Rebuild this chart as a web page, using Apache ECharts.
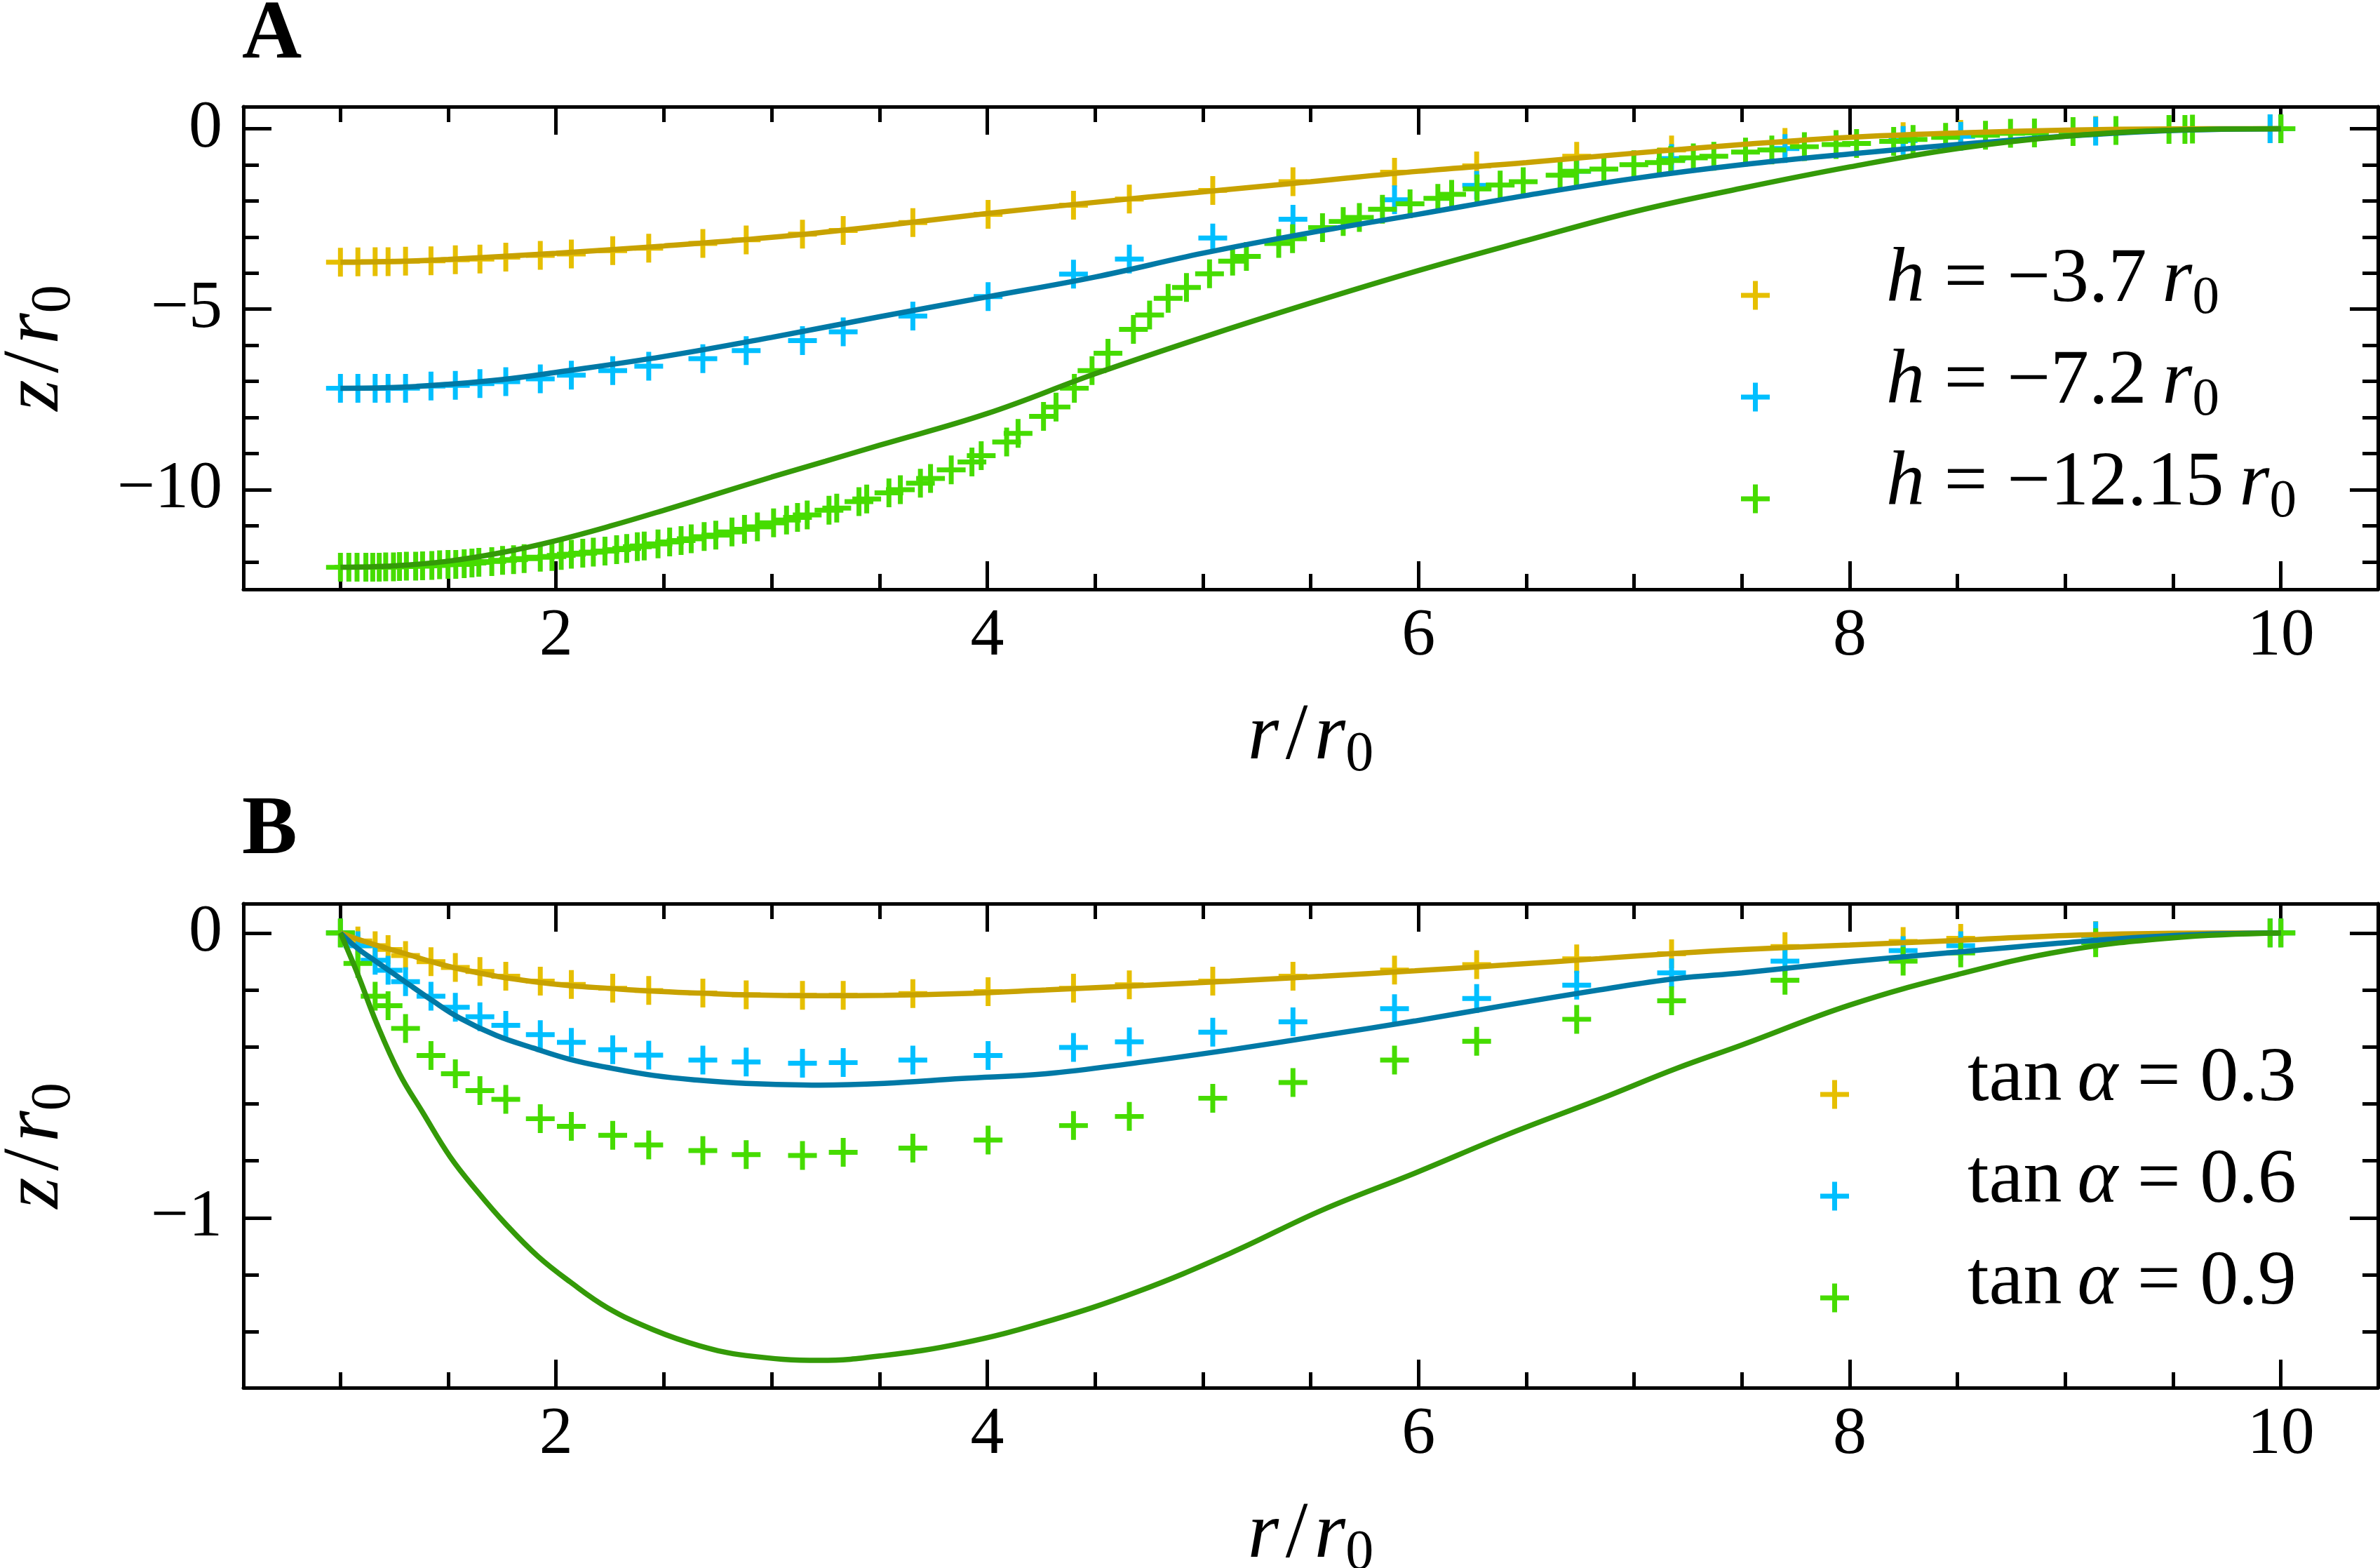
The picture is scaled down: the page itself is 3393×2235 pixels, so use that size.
<!DOCTYPE html>
<html>
<head>
<meta charset="utf-8">
<script src="https://cdn.jsdelivr.net/npm/echarts@6/dist/echarts.min.js"></script>
<style>
html, body { margin: 0; padding: 0; background: #fff; }
#chart { width: 3393px; height: 2235px; }
</style>
</head>
<body>
<div id="chart"></div>
<script>
// ---- data ----
// shared r/r0 nodes of the simulated profiles (gold, blue in A; all of B)
const rNodes = [1.000, 1.081, 1.161, 1.221, 1.302, 1.420, 1.533, 1.647, 1.767, 1.927, 2.071, 2.263, 2.430,
  2.681, 2.882, 3.143, 3.332, 3.655, 4.004, 4.400, 4.659, 5.046, 5.418, 5.889, 6.270, 6.734, 7.174,
  7.700, 8.248, 8.515, 9.141, 9.950, 10.000];

// panel A markers
const zA_h37 = [-3.70, -3.69, -3.685, -3.685, -3.67, -3.66, -3.63, -3.61, -3.56, -3.51, -3.47, -3.38, -3.31,
  -3.18, -3.08, -2.92, -2.82, -2.60, -2.375, -2.12, -1.95, -1.71, -1.47, -1.205, -1.03, -0.765, -0.59,
  -0.38, -0.22, -0.16, -0.05, 0, 0];
const zA_h72 = [-7.19, -7.19, -7.19, -7.19, -7.19, -7.13, -7.11, -7.06, -7.01, -6.93, -6.83, -6.70, -6.58,
  -6.37, -6.15, -5.87, -5.63, -5.19, -4.65, -4.03, -3.61, -3.03, -2.51, -1.97, -1.57, -1.18, -0.83,
  -0.55, -0.33, -0.21, -0.07, 0, 0];
const rA_h1215 = [1.000, 1.039, 1.077, 1.118, 1.150, 1.180, 1.210, 1.246, 1.274, 1.306, 1.349, 1.381, 1.424,
  1.460, 1.499, 1.535, 1.574, 1.610, 1.642, 1.702, 1.752, 1.803, 1.852, 1.927, 1.981, 2.024, 2.071, 2.124,
  2.173, 2.227, 2.281, 2.328, 2.377, 2.409, 2.473, 2.527, 2.580, 2.627, 2.687, 2.741, 2.816, 2.874, 2.934,
  3.009, 3.069, 3.120, 3.165, 3.266, 3.302, 3.405, 3.441, 3.544, 3.597, 3.690, 3.737, 3.833,
  3.929, 3.972, 4.090, 4.143, 4.261, 4.319, 4.404, 4.486, 4.560, 4.678, 4.753, 4.839, 4.924, 5.031, 5.138,
  5.202, 5.352, 5.416, 5.555, 5.651, 5.726, 5.833, 5.961, 6.090, 6.154, 6.272, 6.379, 6.486, 6.657, 6.732,
  6.860, 6.999, 7.117, 7.170, 7.275, 7.370, 7.517, 7.639, 7.790, 7.937, 8.032, 8.204, 8.294, 8.445, 8.630,
  8.746, 8.857, 9.036, 9.235, 9.481, 9.555, 9.590, 10.000];
const zA_h1215 = [-12.15, -12.15, -12.15, -12.15, -12.15, -12.15, -12.14, -12.14, -12.13, -12.12, -12.12, -12.11, -12.10,
  -12.08, -12.07, -12.07, -12.05, -12.03, -12.01, -11.99, -11.96, -11.94, -11.91, -11.87, -11.85, -11.82, -11.79, -11.76,
  -11.73, -11.70, -11.66, -11.63, -11.58, -11.56, -11.50, -11.45, -11.41, -11.36, -11.30, -11.26, -11.17, -11.10, -11.03,
  -10.92, -10.84, -10.77, -10.70, -10.57, -10.51, -10.33, -10.26, -10.09, -10.00, -9.82, -9.69, -9.45,
  -9.235, -9.06, -8.68, -8.44, -7.97, -7.71, -7.19, -6.70, -6.22, -5.56, -5.16, -4.70, -4.40, -4.02, -3.67,
  -3.54, -3.18, -3.05, -2.74, -2.57, -2.46, -2.23, -2.08, -1.93, -1.82, -1.67, -1.56, -1.47, -1.29, -1.18,
  -1.12, -1.00, -0.94, -0.88, -0.81, -0.765, -0.65, -0.59, -0.50, -0.44, -0.41, -0.35, -0.30, -0.24, -0.18,
  -0.13, -0.12, -0.08, -0.05, -0.02, -0.02, -0.01, 0];

// panel A model curves
const rLineA_37 = [1, 1.25, 1.5, 2, 2.5, 3, 3.5, 4, 4.5, 5, 5.5, 6, 6.5, 7, 7.5, 8, 8.5, 9, 9.5, 10];
const zLineA_37 = [-3.70, -3.68, -3.62, -3.45, -3.25, -3.01, -2.70, -2.35, -2.04, -1.75, -1.47, -1.18, -0.94, -0.68,
  -0.44, -0.24, -0.12, -0.04, -0.005, 0];
const rLineA_72 = [1, 1.25, 1.5, 1.75, 2, 2.5, 3, 3.5, 4, 4.5, 5, 5.5, 6, 6.5, 7, 7.5, 8, 8.5, 9, 9.5, 10];
const zLineA_72 = [-7.19, -7.17, -7.08, -6.95, -6.75, -6.31, -5.78, -5.21, -4.66, -4.11, -3.45, -2.88, -2.37, -1.85,
  -1.38, -1.00, -0.70, -0.44, -0.21, -0.05, 0];
const rLineA_1215 = [1, 1.25, 1.5, 1.75, 2, 2.25, 2.5, 2.75, 3, 3.25, 3.5, 4, 4.5, 5, 5.5, 6, 6.5, 7, 7.5, 8, 8.5, 9, 9.5, 10];
const zLineA_1215 = [-12.15, -12.11, -11.98, -11.74, -11.41, -11.01, -10.57, -10.11, -9.65, -9.21, -8.77, -7.89, -6.79,
  -5.78, -4.83, -3.93, -3.10, -2.30, -1.65, -1.06, -0.55, -0.21, -0.04, 0];

// panel B markers (on rNodes)
const zB_t03 = [0, -0.028, -0.045, -0.058, -0.079, -0.101, -0.121, -0.135, -0.152, -0.169, -0.181, -0.194, -0.202,
  -0.211, -0.217, -0.219, -0.219, -0.213, -0.206, -0.194, -0.182, -0.169, -0.152, -0.130, -0.111, -0.091, -0.073,
  -0.048, -0.030, -0.019, -0.009, 0, 0];
const zB_t06 = [0, -0.045, -0.096, -0.131, -0.171, -0.222, -0.261, -0.294, -0.324, -0.357, -0.384, -0.410, -0.429,
  -0.446, -0.453, -0.457, -0.455, -0.446, -0.430, -0.402, -0.382, -0.348, -0.312, -0.266, -0.230, -0.183, -0.140,
  -0.099, -0.062, -0.045, -0.010, 0, 0];
const zB_t09 = [0, -0.107, -0.222, -0.255, -0.335, -0.430, -0.494, -0.553, -0.584, -0.652, -0.679, -0.710, -0.744,
  -0.764, -0.778, -0.781, -0.770, -0.755, -0.727, -0.676, -0.644, -0.580, -0.525, -0.446, -0.380, -0.303, -0.238,
  -0.166, -0.099, -0.070, -0.034, 0, 0];

// panel B model curves
const rLineB_03 = [1, 1.081, 1.167, 1.302, 1.424, 1.552, 1.724, 1.895, 2.066, 2.238, 2.452, 2.666, 2.880, 3.223, 3.522,
  3.882, 4.272, 4.700, 5.127, 5.555, 5.983, 6.411, 6.838, 7.198, 7.5, 8, 8.5, 9, 9.5, 10];
const zLineB_03 = [0, -0.022, -0.043, -0.073, -0.101, -0.126, -0.152, -0.171, -0.185, -0.194, -0.204, -0.211, -0.217,
  -0.220, -0.219, -0.213, -0.200, -0.185, -0.169, -0.152, -0.133, -0.112, -0.090, -0.071, -0.058, -0.042, -0.026,
  -0.009, -0.001, 0];
const rLineB_06 = [1, 1.081, 1.167, 1.296, 1.424, 1.552, 1.724, 1.895, 2.066, 2.238, 2.452, 2.666, 2.880, 3.223, 3.522,
  3.882, 4.272, 4.700, 5.127, 5.555, 5.983, 6.411, 6.838, 7.198, 7.5, 8, 8.5, 9, 9.5, 10];
const zLineB_06 = [0, -0.055, -0.101, -0.169, -0.236, -0.298, -0.360, -0.404, -0.444, -0.472, -0.500, -0.517, -0.528,
  -0.534, -0.528, -0.511, -0.494, -0.455, -0.410, -0.360, -0.309, -0.253, -0.200, -0.160, -0.140, -0.101, -0.067,
  -0.034, -0.009, 0];
const rLineB_09 = [1, 1.081, 1.167, 1.274, 1.381, 1.510, 1.638, 1.767, 1.916, 2.066, 2.238, 2.452, 2.666, 2.880, 3.223,
  3.522, 3.882, 4.272, 4.700, 5.127, 5.555, 5.983, 6.411, 6.838, 7.198, 7.5, 8, 8.5, 9, 9.5, 10];
const zLineB_09 = [0, -0.146, -0.315, -0.494, -0.629, -0.787, -0.910, -1.022, -1.135, -1.225, -1.315, -1.393, -1.449,
  -1.483, -1.500, -1.483, -1.440, -1.365, -1.258, -1.124, -0.972, -0.843, -0.708, -0.584, -0.475, -0.393, -0.253,
  -0.146, -0.062, -0.017, 0];

// ticks
const xMajor = [2, 4, 6, 8, 10];
const xMinor = [1, 1.5, 2.5, 3, 3.5, 4.5, 5, 5.5, 6.5, 7, 7.5, 8.5, 9, 9.5];
const yMajorA = [-10, -5, 0];
const yMinorA = [-12, -11, -9, -8, -7, -6, -4, -3, -2, -1];
const yMajorB = [-1, 0];
const yMinorB = [-1.4, -1.2, -0.8, -0.6, -0.4, -0.2];

const legendA = ['{i|h}{n| = \u22123.7\u2009}{i|r}{s|0}', '{i|h}{n| = \u22127.2\u2009}{i|r}{s|0}', '{i|h}{n| = \u221212.15\u2009}{i|r}{s|0}'];
const legendB = ['{n|tan\u2009}{i|\u03b1}{n| = 0.3}', '{n|tan\u2009}{i|\u03b1}{n| = 0.6}', '{n|tan\u2009}{i|\u03b1}{n| = 0.9}'];
const nameX = '{i|r}{n|\u200a/\u200a}{i|r}{s|0}';
const nameY = '{i|z}{n|\u200a/\u200a}{i|r}{s|0}';

// ---- styling ----
const FONT = '"Liberation Serif", "DejaVu Serif", serif';
const PLUS = 'path://M8.3,0h3.4v8.3h8.3v3.4h-8.3v8.3h-3.4v-8.3h-8.3v-3.4h8.3z';
const GOLD = '#e6bf00', GOLD_L = '#c8a200';
const BLUE = '#00bfff', BLUE_L = '#0079a6';
const GREEN = '#46dc00', GREEN_L = '#349a08';

function richMath(size) {
  const sub = Math.round(size * 0.7);
  const pad = Math.round(size * 0.19);
  const base = { fontFamily: FONT, fontSize: size, lineHeight: size, color: '#000', verticalAlign: 'bottom', padding: [0, 0, pad, 0] };
  return {
    n: base,
    i: Object.assign({}, base, { fontStyle: 'italic' }),
    s: { fontFamily: FONT, fontSize: sub, lineHeight: sub, color: '#000', verticalAlign: 'bottom', padding: [0, 0, pad - 9, 0] },
  };
}

const minus = v => (v < 0 ? '\u2212' + Math.abs(v) : String(v));
const axisLine = { show: true, onZero: false, lineStyle: { color: '#000', width: 5 } };
const noLine = { show: false, onZero: false };
const tickStyle = { color: '#000', width: 5 };

function xAxesFor(grid) {
  const base = { type: 'value', gridIndex: grid, min: 0.55, max: 10.45, splitLine: { show: false } };
  return [
    Object.assign({}, base, {
      position: 'bottom', axisLine,
      axisTick: { inside: true, length: 40, lineStyle: tickStyle, customValues: xMajor },
      axisLabel: { customValues: xMajor, fontFamily: FONT, fontSize: 96, color: '#000', margin: 20 },
      name: nameX, nameLocation: 'middle', nameGap: 176,
      nameTextStyle: { rich: richMath(114) },
    }),
    Object.assign({}, base, {
      position: 'bottom', axisLine: noLine,
      axisTick: { inside: true, length: 22, lineStyle: tickStyle, customValues: xMinor }, axisLabel: { show: false },
    }),
    Object.assign({}, base, {
      position: 'top', axisLine,
      axisTick: { inside: true, length: 40, lineStyle: tickStyle, customValues: xMajor }, axisLabel: { show: false },
    }),
    Object.assign({}, base, {
      position: 'top', axisLine: noLine,
      axisTick: { inside: true, length: 22, lineStyle: tickStyle, customValues: xMinor }, axisLabel: { show: false },
    }),
  ];
}

function yAxesFor(grid, min, max, major, minor) {
  const base = { type: 'value', gridIndex: grid, min, max, splitLine: { show: false } };
  return [
    Object.assign({}, base, {
      position: 'left', axisLine,
      axisTick: { inside: true, length: 40, lineStyle: tickStyle, customValues: major },
      axisLabel: { customValues: major, fontFamily: FONT, fontSize: 96, color: '#000', margin: 30, formatter: minus },
      name: nameY, nameLocation: 'middle', nameGap: 216, nameRotate: 90,
      nameTextStyle: { rich: richMath(114) },
    }),
    Object.assign({}, base, {
      position: 'left', axisLine: noLine,
      axisTick: { inside: true, length: 22, lineStyle: tickStyle, customValues: minor }, axisLabel: { show: false },
    }),
    Object.assign({}, base, {
      position: 'right', axisLine,
      axisTick: { inside: true, length: 40, lineStyle: tickStyle, customValues: major }, axisLabel: { show: false },
    }),
    Object.assign({}, base, {
      position: 'right', axisLine: noLine,
      axisTick: { inside: true, length: 22, lineStyle: tickStyle, customValues: minor }, axisLabel: { show: false },
    }),
  ];
}

const zip = (xs, ys) => xs.map((x, i) => [x, ys[i]]);

function marks(name, axis, xs, ys, color) {
  return { type: 'scatter', name, xAxisIndex: axis, yAxisIndex: axis, data: zip(xs, ys),
    symbol: PLUS, symbolSize: 41, itemStyle: { color, opacity: 1 }, z: 2, silent: true };
}
function curve(axis, xs, ys, color) {
  return { type: 'line', xAxisIndex: axis, yAxisIndex: axis, data: zip(xs, ys), showSymbol: false, symbol: 'none',
    smooth: 0.4, lineStyle: { width: 7.5, color }, z: 3, silent: true };
}

function legendFor(names, labels, left, top, padLeft) {
  const map = {};
  names.forEach((n, i) => { map[n] = labels[i]; });
  return {
    data: names, orient: 'vertical', left, top, itemWidth: 41, itemHeight: 41, itemGap: 14,
    icon: PLUS, selectedMode: false, formatter: n => map[n],
    textStyle: { fontFamily: FONT, fontSize: 110, color: '#000', padding: [0, 0, 0, padLeft], rich: richMath(110) },
  };
}

const chart = echarts.init(document.getElementById('chart'), null, { renderer: 'canvas' });
chart.setOption({
  animation: false,
  backgroundColor: '#fff',
  grid: [
    { left: 347, right: 3, top: 152, height: 688, outerBoundsMode: 'none', containLabel: false },
    { left: 347, right: 3, top: 1288, height: 690, outerBoundsMode: 'none', containLabel: false },
  ],
  xAxis: xAxesFor(0).concat(xAxesFor(1)),
  yAxis: yAxesFor(0, -12.76, 0.61, yMajorA, yMinorA).concat(yAxesFor(1, -1.596, 0.103, yMajorB, yMinorB)),
  legend: [
    legendFor(['hA1', 'hA2', 'hA3'], legendA, 2477, 340, 161),
    legendFor(['tB1', 'tB2', 'tB3'], legendB, 2590, 1479, 164),
  ],
  graphic: [
    { type: 'text', x: 345, y: 52, style: { text: 'A', font: 'bold 118px ' + FONT, fill: '#000', align: 'left', verticalAlign: 'middle' } },
    { type: 'text', x: 345, y: 1186, style: { text: 'B', font: 'bold 118px ' + FONT, fill: '#000', align: 'left', verticalAlign: 'middle' } },
  ],
  series: [
    marks('hA1', 0, rNodes, zA_h37, GOLD),
    marks('hA2', 0, rNodes, zA_h72, BLUE),
    marks('hA3', 0, rA_h1215, zA_h1215, GREEN),
    curve(0, rLineA_37, zLineA_37, GOLD_L),
    curve(0, rLineA_72, zLineA_72, BLUE_L),
    curve(0, rLineA_1215, zLineA_1215, GREEN_L),
    marks('tB1', 4, rNodes, zB_t03, GOLD),
    marks('tB2', 4, rNodes, zB_t06, BLUE),
    marks('tB3', 4, rNodes, zB_t09, GREEN),
    curve(4, rLineB_03, zLineB_03, GOLD_L),
    curve(4, rLineB_06, zLineB_06, BLUE_L),
    curve(4, rLineB_09, zLineB_09, GREEN_L),
  ],
});
</script>
</body>
</html>
